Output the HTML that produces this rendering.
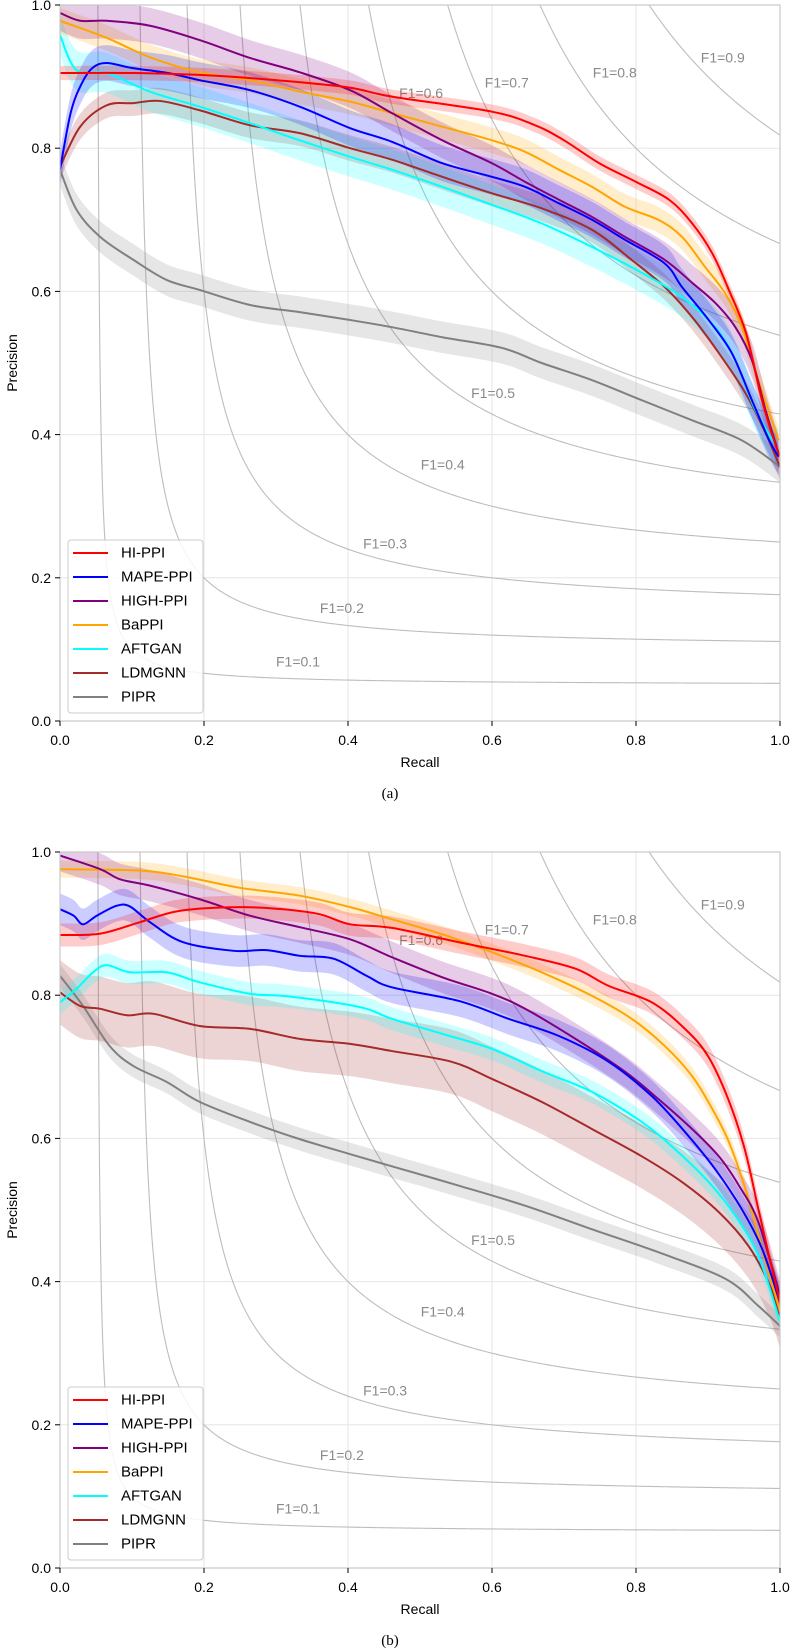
<!DOCTYPE html>
<html><head><meta charset="utf-8">
<style>
html,body{margin:0;padding:0;background:#fff;}
svg{display:block;font-family:"Liberation Sans","DejaVu Sans",sans-serif;}
</style></head>
<body>
<svg id="fig" width="792" height="1652" viewBox="0 0 792 1652" xmlns="http://www.w3.org/2000/svg"></svg>
<script>
// ---- data ----
const seriesNames = ["HI-PPI","MAPE-PPI","HIGH-PPI","BaPPI","AFTGAN","LDMGNN","PIPR"];
const seriesColors = ["#ff0000","#0000ff","#800080","#ffa500","#00ffff","#a52a2a","#808080"];
const f1Levels = [0.1,0.2,0.3,0.4,0.5,0.6,0.7,0.8,0.9];
const xTicks = [0,0.2,0.4,0.6,0.8,1.0];
const yTicks = [0,0.2,0.4,0.6,0.8,1.0];
const tickLabels = ["0.0","0.2","0.4","0.6","0.8","1.0"];
const f1LabelR = [0.30,0.361,0.421,0.501,0.571,0.471,0.590,0.740,0.890];
const f1LabelP = [0.083,0.158,0.248,0.358,0.458,0.877,0.892,0.906,0.927];

const aHiR = [0,0.1,0.2,0.3,0.4,0.461,0.6,0.66,0.70,0.749,0.80,0.846,0.878,0.906,0.929,0.953,0.975,0.993,1.0];
const aHiP = [0.905,0.905,0.902,0.895,0.885,0.872,0.851,0.832,0.811,0.779,0.753,0.728,0.695,0.653,0.602,0.541,0.448,0.388,0.37];
const aMapeR = [0,0.015,0.03,0.045,0.065,0.1,0.15,0.194,0.264,0.333,0.403,0.461,0.531,0.6,0.646,0.693,0.739,0.785,0.840,0.864,0.901,0.933,0.961,0.985,0.998];
const aMapeP = [0.77,0.85,0.89,0.912,0.919,0.912,0.905,0.895,0.881,0.858,0.828,0.809,0.779,0.760,0.746,0.723,0.700,0.672,0.639,0.606,0.560,0.514,0.448,0.392,0.369];
const aHighR = [0,0.028,0.065,0.125,0.194,0.264,0.333,0.403,0.461,0.531,0.6,0.646,0.693,0.739,0.785,0.840,0.878,0.910,0.938,0.961,0.980,0.998];
const aHighP = [0.989,0.978,0.978,0.971,0.951,0.926,0.906,0.881,0.849,0.811,0.779,0.753,0.728,0.704,0.676,0.644,0.612,0.584,0.550,0.504,0.434,0.374];
const aBaR = [0,0.065,0.125,0.194,0.264,0.333,0.403,0.461,0.531,0.6,0.646,0.693,0.739,0.785,0.831,0.864,0.896,0.924,0.947,0.970,0.998];
const aBaP = [0.978,0.954,0.927,0.906,0.895,0.879,0.865,0.849,0.830,0.811,0.795,0.770,0.746,0.718,0.700,0.676,0.634,0.597,0.550,0.476,0.392];
const aAftR = [0,0.023,0.065,0.125,0.194,0.264,0.333,0.403,0.461,0.531,0.6,0.669,0.739,0.808,0.864,0.910,0.938,0.966,0.998];
const aAftP = [0.958,0.909,0.905,0.879,0.858,0.835,0.811,0.788,0.770,0.746,0.721,0.695,0.662,0.626,0.592,0.550,0.504,0.434,0.378];
const aLdmR = [0,0.028,0.065,0.102,0.139,0.194,0.264,0.333,0.403,0.461,0.531,0.6,0.669,0.739,0.794,0.840,0.878,0.915,0.952,0.980,1.0];
const aLdmP = [0.774,0.830,0.860,0.863,0.866,0.853,0.832,0.821,0.800,0.784,0.760,0.737,0.716,0.686,0.644,0.606,0.564,0.514,0.458,0.402,0.355];
const aPiprR = [0,0.023,0.056,0.102,0.148,0.194,0.264,0.333,0.403,0.461,0.531,0.614,0.669,0.739,0.808,0.878,0.947,1.0];
const aPiprP = [0.77,0.714,0.676,0.644,0.616,0.602,0.581,0.571,0.560,0.550,0.536,0.521,0.500,0.476,0.448,0.420,0.392,0.355];
const aSpread = [0.01,0.025,0.025,0.018,0.028,0.018,0.022];

const bHiR = [0,0.056,0.111,0.167,0.25,0.31,0.361,0.403,0.461,0.554,0.646,0.716,0.762,0.822,0.868,0.900,0.928,0.951,0.970,0.988,1.0];
const bHiP = [0.884,0.886,0.902,0.918,0.923,0.920,0.913,0.899,0.894,0.874,0.855,0.837,0.813,0.790,0.753,0.715,0.655,0.585,0.501,0.422,0.371];
const bMapeR = [0,0.019,0.032,0.051,0.079,0.097,0.125,0.171,0.241,0.287,0.333,0.38,0.426,0.461,0.554,0.623,0.693,0.762,0.822,0.868,0.910,0.947,0.975,1.0];
const bMapeP = [0.920,0.911,0.899,0.911,0.925,0.924,0.902,0.874,0.862,0.863,0.855,0.851,0.827,0.811,0.792,0.767,0.743,0.707,0.659,0.609,0.557,0.501,0.446,0.371];
const bHighR = [0,0.056,0.083,0.125,0.194,0.264,0.333,0.403,0.461,0.531,0.6,0.646,0.716,0.785,0.831,0.878,0.915,0.943,0.970,1.0];
const bHighP = [0.995,0.976,0.962,0.953,0.934,0.911,0.895,0.878,0.853,0.825,0.802,0.781,0.739,0.693,0.655,0.613,0.575,0.534,0.483,0.380];
const bBaR = [0,0.111,0.171,0.25,0.333,0.403,0.461,0.531,0.6,0.669,0.739,0.794,0.840,0.878,0.906,0.929,0.952,0.975,1.0];
const bBaP = [0.976,0.974,0.966,0.950,0.939,0.923,0.906,0.885,0.860,0.832,0.799,0.767,0.729,0.687,0.641,0.595,0.529,0.446,0.358];
const bAftR = [0,0.023,0.046,0.065,0.097,0.148,0.194,0.264,0.31,0.38,0.426,0.461,0.531,0.6,0.669,0.739,0.808,0.854,0.901,0.938,0.970,1.0];
const bAftP = [0.790,0.809,0.832,0.842,0.832,0.832,0.818,0.802,0.799,0.790,0.781,0.767,0.746,0.725,0.694,0.665,0.623,0.585,0.539,0.492,0.436,0.344];
const bLdmR = [0,0.028,0.056,0.093,0.130,0.194,0.264,0.333,0.403,0.461,0.544,0.6,0.669,0.739,0.808,0.864,0.915,0.956,0.984,1.0];
const bLdmP = [0.804,0.785,0.781,0.772,0.774,0.757,0.753,0.739,0.732,0.722,0.707,0.683,0.651,0.613,0.575,0.539,0.497,0.450,0.399,0.352];
const bPiprR = [0,0.032,0.069,0.102,0.148,0.194,0.264,0.333,0.403,0.461,0.554,0.646,0.739,0.831,0.924,0.970,1.0];
const bPiprP = [0.827,0.785,0.729,0.701,0.679,0.651,0.623,0.599,0.578,0.561,0.534,0.506,0.473,0.441,0.404,0.366,0.338];
const bSpread = [0.016,0.022,0.022,0.012,0.016,0.045,0.016];

const chartA = {R:[aHiR,aMapeR,aHighR,aBaR,aAftR,aLdmR,aPiprR], P:[aHiP,aMapeP,aHighP,aBaP,aAftP,aLdmP,aPiprP], S:aSpread};
const chartB = {R:[bHiR,bMapeR,bHighR,bBaR,bAftR,bLdmR,bPiprR], P:[bHiP,bMapeP,bHighP,bBaP,bAftP,bLdmP,bPiprP], S:bSpread};

const NS = "http://www.w3.org/2000/svg";
const fig = document.getElementById("fig");
function mk(tag, attrs, parent){
  const e = document.createElementNS(NS, tag);
  for (const k in attrs) e.setAttribute(k, attrs[k]);
  (parent||fig).appendChild(e);
  return e;
}
// Catmull-Rom smoothing through points; returns path segments (without initial M if cont)
function smooth(pts, cont){
  let d = (cont?"L":"M")+pts[0][0].toFixed(2)+","+pts[0][1].toFixed(2);
  for (let i=0;i<pts.length-1;i++){
    const p0=pts[Math.max(i-1,0)], p1=pts[i], p2=pts[i+1], p3=pts[Math.min(i+2,pts.length-1)];
    const c1=[p1[0]+(p2[0]-p0[0])/6, p1[1]+(p2[1]-p0[1])/6];
    const c2=[p2[0]-(p3[0]-p1[0])/6, p2[1]-(p3[1]-p1[1])/6];
    d += "C"+c1[0].toFixed(2)+","+c1[1].toFixed(2)+" "+c2[0].toFixed(2)+","+c2[1].toFixed(2)+" "+p2[0].toFixed(2)+","+p2[1].toFixed(2);
  }
  return d;
}
function drawChart(data, top, caption, tag){
  const L=60, R=780, T=top, B=top+716;
  const xs = r => L + r*(R-L);
  const ys = p => B - p*(B-T);
  const g = mk("g",{});
  
  
  const clipId = "clip"+tag;
  const cp = mk("clipPath",{id:clipId},g);
  mk("rect",{x:L,y:T,width:R-L,height:B-T},cp);
  xTicks.forEach((t)=>{
    const gl = mk("line",{x1:xs(t),x2:xs(t),y1:T,y2:B,stroke:"#e6e6e6","stroke-width":1},g);
    
    
  });
  yTicks.forEach((t)=>{
    const gl = mk("line",{x1:L,x2:R,y1:ys(t),y2:ys(t),stroke:"#e6e6e6","stroke-width":1},g);
    
    
  });
  const fg = mk("g",{"clip-path":"url(#"+clipId+")"},g);
  f1Levels.forEach((f,i)=>{
    let d="";
    const r0 = f/(2-f);
    for (let k=0;k<=300;k++){
      const r = r0 + (1-r0)*Math.pow(k/300,2);
      const p = f*r/(2*r-f);
      d += (k?"L":"M")+xs(r).toFixed(2)+","+ys(Math.min(p,1.02)).toFixed(2);
    }
    const c = mk("path",{d:d,fill:"none",stroke:"#bdbdbd","stroke-width":1.1},fg);
    
    
    const t = mk("text",{x:xs(f1LabelR[i]),y:ys(f1LabelP[i]),"font-size":14,fill:"#8a8a8a","dominant-baseline":"central"},g);
    t.textContent = "F1="+f.toFixed(1);
    
    
  });
  const sg = mk("g",{"clip-path":"url(#"+clipId+")"},g);
  for (let s=seriesNames.length-1;s>=0;s--){
    const rr=data.R[s], pp=data.P[s], sp=data.S[s];
    const upPts = rr.map((r,i)=>[xs(r), ys(pp[i]+sp)]);
    const loPts = rr.map((r,i)=>[xs(r), ys(pp[i]-sp)]).reverse();
    const band = mk("path",{d:smooth(upPts,false)+smooth(loPts,true)+"Z",fill:seriesColors[s],"fill-opacity":0.2,stroke:"none"},sg);
    
    
  }
  for (let s=seriesNames.length-1;s>=0;s--){
    const rr=data.R[s], pp=data.P[s];
    const pts = rr.map((r,i)=>[xs(r), ys(pp[i])]);
    const ln = mk("path",{d:smooth(pts,false),fill:"none",stroke:seriesColors[s],"stroke-width":2,"stroke-linejoin":"round"},sg);
    
    
  }
  const fr = mk("rect",{x:L,y:T,width:R-L,height:B-T,fill:"none",stroke:"#c8c8c8","stroke-width":1.2},g);
  
  
  xTicks.forEach((t,i)=>{
    mk("line",{x1:xs(t),x2:xs(t),y1:B,y2:B+5,stroke:"#000","stroke-width":1},g);
    const tx = mk("text",{x:xs(t),y:B+19,"font-size":14,"text-anchor":"middle","dominant-baseline":"central"},g);
    tx.textContent = tickLabels[i];
    
    
  });
  yTicks.forEach((t,i)=>{
    mk("line",{x1:L-5,x2:L,y1:ys(t),y2:ys(t),stroke:"#000","stroke-width":1},g);
    const tx = mk("text",{x:L-9,y:ys(t),"font-size":14,"text-anchor":"end","dominant-baseline":"central"},g);
    tx.textContent = tickLabels[i];
    
    
  });
  const xl = mk("text",{x:420,y:B+41,"font-size":14,"text-anchor":"middle","dominant-baseline":"central"},g);
  xl.textContent="Recall";
  
  
  const yl = mk("text",{x:0,y:0,"font-size":14,"text-anchor":"middle","dominant-baseline":"central",transform:"translate(12,"+((T+B)/2)+") rotate(-90)"},g);
  yl.textContent="Precision";
  
  
  const cap = mk("text",{x:390,y:B+73,"font-size":15,"text-anchor":"middle","dominant-baseline":"central","font-family":"Liberation Serif, serif"},g);
  cap.textContent=caption;
  
  
  const lg = mk("g",{},g);
  
  
  const ly0 = T+535;
  mk("rect",{x:68,y:ly0,width:135,height:173,rx:3,fill:"#fff","fill-opacity":0.85,stroke:"#cccccc","stroke-width":1},lg);
  seriesNames.forEach((n,i)=>{
    const y = ly0+13+i*24;
    const e = mk("g",{},lg);
    
    
    mk("line",{x1:73,x2:108,y1:y,y2:y,stroke:seriesColors[i],"stroke-width":2},e);
    const t = mk("text",{x:121,y:y,"font-size":15,"dominant-baseline":"central"},e);
    t.textContent=n;
  });
}
drawChart(chartA, 5, "(a)", "a");
drawChart(chartB, 852, "(b)", "b");
</script>
</body></html>
